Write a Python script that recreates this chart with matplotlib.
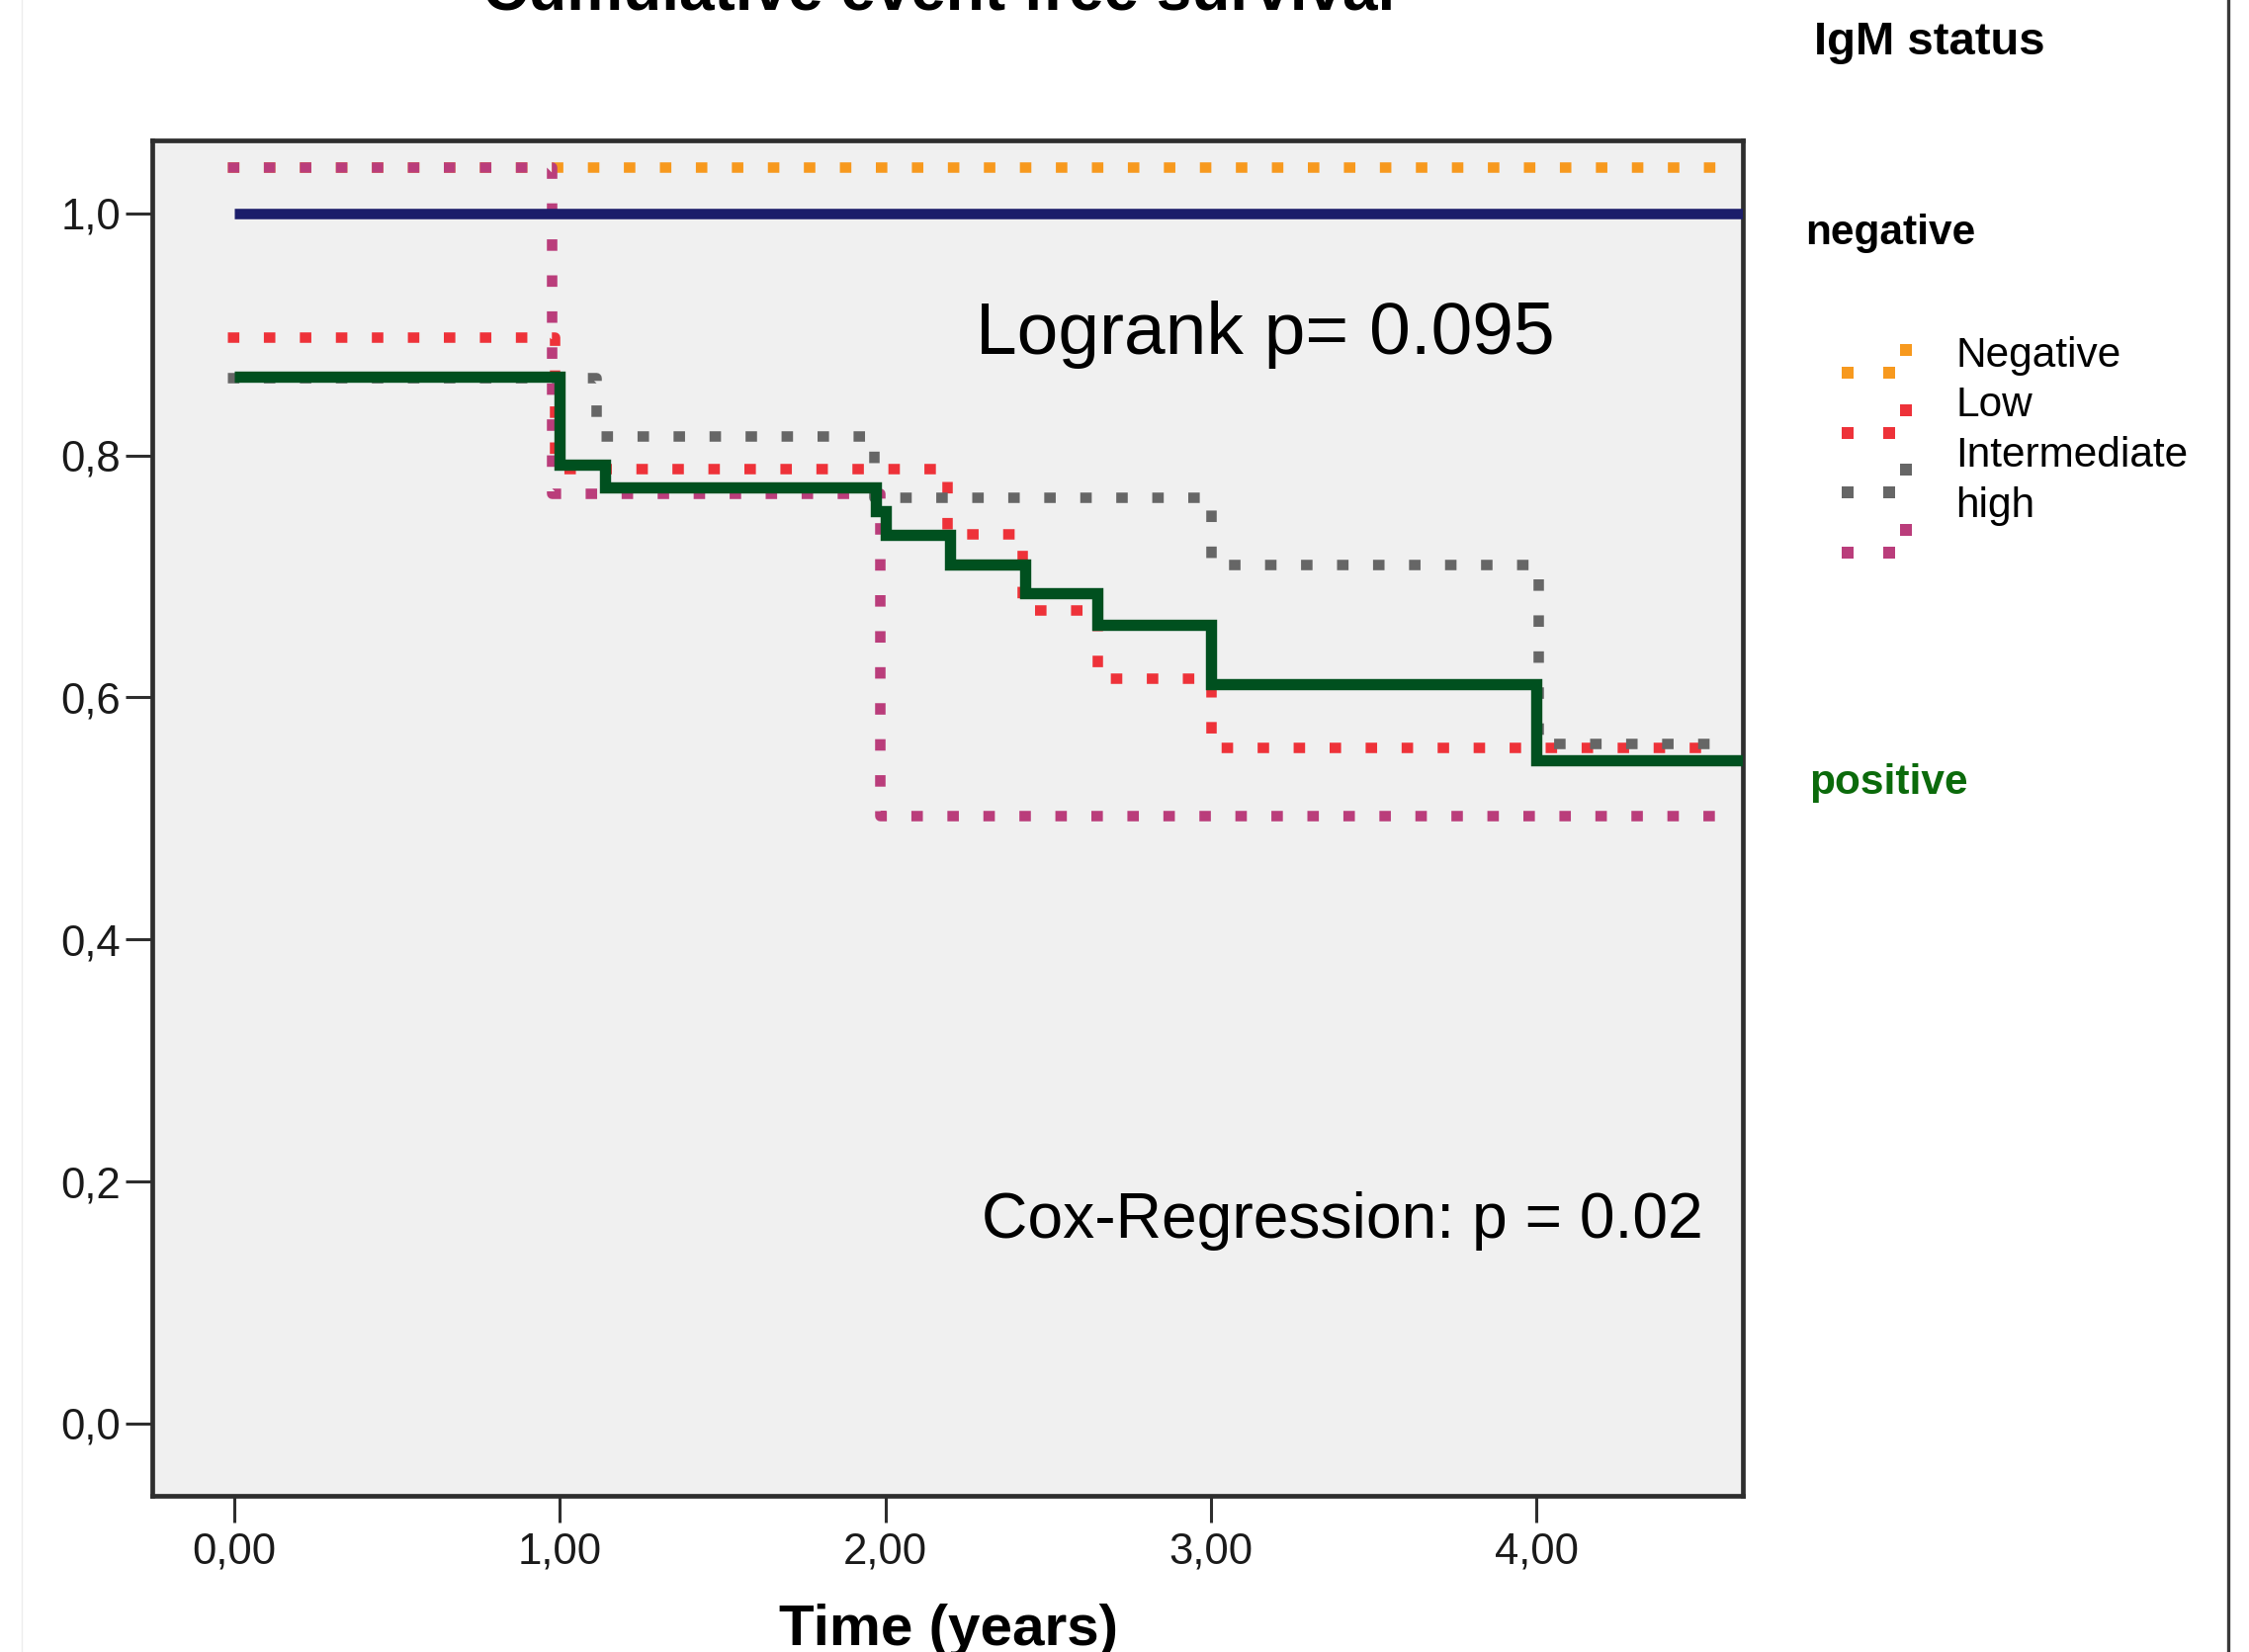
import matplotlib
matplotlib.use("Agg")
import matplotlib.pyplot as plt
from matplotlib.lines import Line2D
from matplotlib.ticker import FixedLocator, FuncFormatter

plt.rcParams['font.family'] = ['Liberation Sans', 'DejaVu Sans']

# ---------------- data (displayed axis units) ----------------
# solid curves: IgM status negative / positive
neg_t = [0.0, 4.634]
neg_s = [1.0, 1.0]
pos_t = [0.0, 1.0, 1.14, 1.97, 2.0, 2.2, 2.43, 2.65, 3.0, 4.0, 4.634]
pos_s = [0.865, 0.792, 0.774, 0.754, 0.734, 0.710, 0.686, 0.660, 0.611, 0.548, 0.548]

# dotted curves: IgM level groups
negative_t = [-0.02, 4.56]
negative_s = [1.038, 1.038]
low_t = [-0.02, 0.985, 2.19, 2.42, 2.65, 3.0, 4.56]
low_s = [0.8975, 0.789, 0.735, 0.6725, 0.616, 0.5585, 0.5585]
inter_t = [-0.02, 1.11, 1.965, 3.0, 4.005, 4.56]
inter_s = [0.8646, 0.816, 0.7656, 0.7097, 0.562, 0.562]
high_t = [-0.02, 0.975, 1.983, 4.595]
high_s = [1.038, 0.769, 0.502, 0.502]

level_labels = ["Negative", "Low", "Intermediate", "high"]
level_colors = ["#F7991E", "#EE3239", "#666666", "#BA3D7B"]

x_ticks = [0, 1, 2, 3, 4]
y_ticks = [0.0, 0.2, 0.4, 0.6, 0.8, 1.0]

# ---------------- figure ----------------
W, H = 2275, 1671
fig = plt.figure(figsize=(W / 100, H / 100), dpi=100)
fig.patch.set_facecolor("white")

def fx(px):
    return px / W

def fy(py):
    return 1 - py / H

ax = fig.add_axes([fx(154), fy(1513), (1763 - 154) / W, (1513 - 142) / H])
ax.set_facecolor("#F0F0F0")
ax.set_xlim(-0.252, 4.634)
ax.set_ylim(-0.0598, 1.0604)

dot = (0, (1.1, 2.35))
dot_lw = 7.6
groups = [(negative_t, negative_s, level_colors[0], 2),
          (high_t, high_s, level_colors[3], 3),
          (low_t, low_s, level_colors[1], 4),
          (inter_t, inter_s, level_colors[2], 5)]
for t, s, c, z in groups:
    ax.step(t, s, where="post", color=c, lw=dot_lw, linestyle=dot,
            dash_capstyle="butt", zorder=z)

ax.step(neg_t, neg_s, where="post", color="#1B1D6A", lw=7.6,
        solid_capstyle="butt", solid_joinstyle="miter", zorder=6)
ax.step(pos_t, pos_s, where="post", color="#00501F", lw=8.2,
        solid_capstyle="butt", solid_joinstyle="miter", zorder=7)

# axes styling
for sp in ax.spines.values():
    sp.set_linewidth(3.4)
    sp.set_color("#2e2e2e")
ax.xaxis.set_major_locator(FixedLocator(x_ticks))
ax.yaxis.set_major_locator(FixedLocator(y_ticks))
ax.xaxis.set_major_formatter(FuncFormatter(lambda v, p: f"{v:.2f}".replace(".", ",")))
ax.yaxis.set_major_formatter(FuncFormatter(lambda v, p: f"{v:.1f}".replace(".", ",")))
ax.tick_params(axis="both", which="major", length=19.4, width=2.2, color="#2e2e2e",
               labelsize=31.5, labelcolor="#1a1a1a")
ax.tick_params(axis="x", pad=7)
ax.tick_params(axis="y", pad=3.5)

# annotations
ax.text(2.279, 0.8836, "Logrank p= 0.095", fontsize=54, color="black",
        ha="left", va="baseline", zorder=10)
ax.text(2.296, 0.1536, "Cox-Regression: p = 0.02", fontsize=46.2, color="black",
        ha="left", va="baseline", zorder=10)

# title (cut off at the top)
fig.text(fx(950), fy(9), "Cumulative event free survival", fontsize=46,
         fontweight="bold", ha="center", va="baseline", color="black")

# x label
fig.text(fx(960), fy(1664), "Time (years)", fontsize=42, fontweight="bold",
         ha="center", va="baseline", color="black")

# legend panel
fig.text(fx(1835), fy(55), "IgM status", fontsize=34, fontweight="bold",
         ha="left", va="baseline", color="black")
fig.text(fx(1826), fy(247), "negative", fontsize=30.5, fontweight="bold",
         ha="left", va="baseline", color="black")
fig.text(fx(1830), fy(803), "positive", fontsize=30.5, fontweight="bold",
         ha="left", va="baseline", color="#0B6A0B")

base_y = [370.7, 421.0, 471.7, 522.7]
mark_y = [376.5, 437.5, 498.3, 559.0]
for lab, col, by, my in zip(level_labels, level_colors, base_y, mark_y):
    fig.text(fx(1978), fy(by), lab, fontsize=30.5, ha="left", va="baseline",
             color="black")
    fig.add_artist(Line2D([fx(1868.5), fx(1911)], [fy(my), fy(my)],
                          transform=fig.transFigure, linestyle="none", marker="s",
                          markersize=8.5, markerfacecolor=col, markeredgewidth=0))
    fig.add_artist(Line2D([fx(1928)], [fy(my - 23)], transform=fig.transFigure,
                          linestyle="none", marker="s", markersize=8.5,
                          markerfacecolor=col, markeredgewidth=0))

# frame lines of the image
fig.add_artist(Line2D([fx(2254), fx(2254)], [0, 1], transform=fig.transFigure,
                      color="#3a3a3a", lw=2.4))
fig.add_artist(Line2D([fx(22), fx(22)], [0, 1], transform=fig.transFigure,
                      color="#ededed", lw=1.0))

fig.savefig("out.png", dpi=100, facecolor="white")
